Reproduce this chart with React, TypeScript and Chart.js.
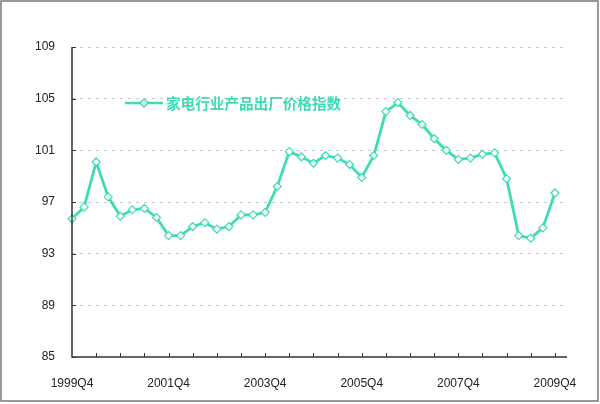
import React, { useEffect, useRef } from "react";
import { Chart, registerables } from "chart.js";

Chart.register(...registerables);

const quarters: string[] = [];
for (let y = 1999; y <= 2010; y++) {
  for (let q = 1; q <= 4; q++) {
    if (y === 1999 && q < 4) continue;
    quarters.push(`${y}Q${q}`);
  }
}
// 42 category slots: 1999Q4 ... 2010Q1 (last slot empty)
const categories = quarters.slice(0, 42);

const seriesName = "家电行业产品出厂价格指数";
const seriesValues = [
  95.7, 96.6, 100.1, 97.4, 95.9, 96.4, 96.5, 95.8,
  94.4, 94.4, 95.1, 95.4, 94.9, 95.1, 96.0, 96.0,
  96.2, 98.2, 100.9, 100.5, 100.0, 100.6, 100.4, 99.9,
  98.9, 100.6, 104.0, 104.7, 103.7, 103.0, 101.9, 101.0,
  100.3, 100.4, 100.7, 100.8, 98.8, 94.4, 94.2, 95.0,
  97.7,
];
const yTicks = [85, 89, 93, 97, 101, 105, 109];
const xLabelEvery = 8;

const LINE = "#3ddcb4";
const AXIS = "#333333";

const decorPlugin = {
  id: "decor",
  afterDraw(chart: any) {
    const ctx = chart.ctx as CanvasRenderingContext2D;
    const { chartArea } = chart;
    const xs = chart.scales.x;
    const ys = chart.scales.y;
    ctx.save();
    // axis lines
    ctx.strokeStyle = AXIS;
    ctx.lineWidth = 1.5;
    ctx.beginPath();
    ctx.moveTo(chartArea.left, chartArea.top);
    ctx.lineTo(chartArea.left, chartArea.bottom);
    ctx.lineTo(chartArea.right, chartArea.bottom);
    ctx.stroke();
    // inward ticks
    ctx.lineWidth = 1;
    ctx.beginPath();
    for (const v of yTicks) {
      const py = Math.round(ys.getPixelForValue(v)) + 0.5;
      ctx.moveTo(chartArea.left, py);
      ctx.lineTo(chartArea.left + 4, py);
    }
    for (let i = 2; i < categories.length; i += 2) {
      const px = Math.round(xs.getPixelForValue(i)) + 0.5;
      ctx.moveTo(px, chartArea.bottom);
      ctx.lineTo(px, chartArea.bottom - 4);
    }
    ctx.stroke();
    // legend
    const lx = 125, ly = 103;
    ctx.strokeStyle = LINE;
    ctx.lineWidth = 2.5;
    ctx.beginPath();
    ctx.moveTo(lx, ly);
    ctx.lineTo(lx + 38, ly);
    ctx.stroke();
    ctx.fillStyle = "#ffffff";
    ctx.lineWidth = 1.5;
    ctx.beginPath();
    const cx = lx + 19, r = 4;
    ctx.moveTo(cx, ly - r);
    ctx.lineTo(cx + r, ly);
    ctx.lineTo(cx, ly + r);
    ctx.lineTo(cx - r, ly);
    ctx.closePath();
    ctx.fill();
    ctx.stroke();
    ctx.fillStyle = LINE;
    ctx.font = "bold 14.6px 'Noto Sans CJK SC'";
    ctx.textBaseline = "middle";
    ctx.textAlign = "left";
    ctx.fillText(seriesName, lx + 41, ly);
    // frame
    ctx.strokeStyle = "#777777";
    ctx.lineWidth = 1.5;
    ctx.strokeRect(1, 1, chart.width - 3, chart.height - 4);
    ctx.restore();
  },
};

export default function App() {
  const ref = useRef<HTMLCanvasElement | null>(null);
  useEffect(() => {
    document.body.style.margin = "0";
    const canvas = ref.current!;
    const chart = new Chart(canvas, {
      type: "line",
      data: {
        labels: categories,
        datasets: [
          {
            label: seriesName,
            data: seriesValues,
            borderColor: LINE,
            borderWidth: 2.8,
            pointStyle: "rectRot",
            pointRadius: 4,
            pointBackgroundColor: "#ffffff",
            pointBorderColor: LINE,
            pointBorderWidth: 1.2,
            tension: 0,
          },
        ],
      },
      options: {
        animation: false,
        responsive: false,
        maintainAspectRatio: false,
        layout: { padding: { top: 47, right: 33, left: 0, bottom: 0 } },
        plugins: {
          legend: { display: false },
          tooltip: { enabled: false },
        },
        scales: {
          x: {
            type: "category",
            offset: false,
            border: { display: false },
            grid: { display: false },
            ticks: {
              autoSkip: false,
              maxRotation: 0,
              padding: 11,
              color: "#222222",
              font: { family: "'Liberation Sans'", size: 12 },
              callback: (_v: any, i: number) =>
                i % xLabelEvery === 0 && i < seriesValues.length ? categories[i] : "",
            },
            afterFit: (s: any) => {
              s.height = 47;
            },
          },
          y: {
            min: 85,
            max: 109,
            afterBuildTicks: (s: any) => {
              s.ticks = yTicks.map((v) => ({ value: v }));
            },
            border: { display: false, dash: [3, 5] },
            grid: {
              drawTicks: false,
              color: (c: any) => (c.tick && c.tick.value === 85 ? "rgba(0,0,0,0)" : "#c8c8c8"),
              lineWidth: 1,
            },
            ticks: {
              padding: 17,
              color: "#222222",
              font: { family: "'Liberation Sans'", size: 12 },
            },
            afterFit: (s: any) => {
              s.width = 72;
            },
          },
        },
      } as any,
      plugins: [decorPlugin],
    });
    return () => chart.destroy();
  }, []);
  return (
    <div style={{ width: 600, height: 404 }}>
      <canvas ref={ref} width={600} height={404} style={{ width: 600, height: 404, display: "block" }} />
    </div>
  );
}
